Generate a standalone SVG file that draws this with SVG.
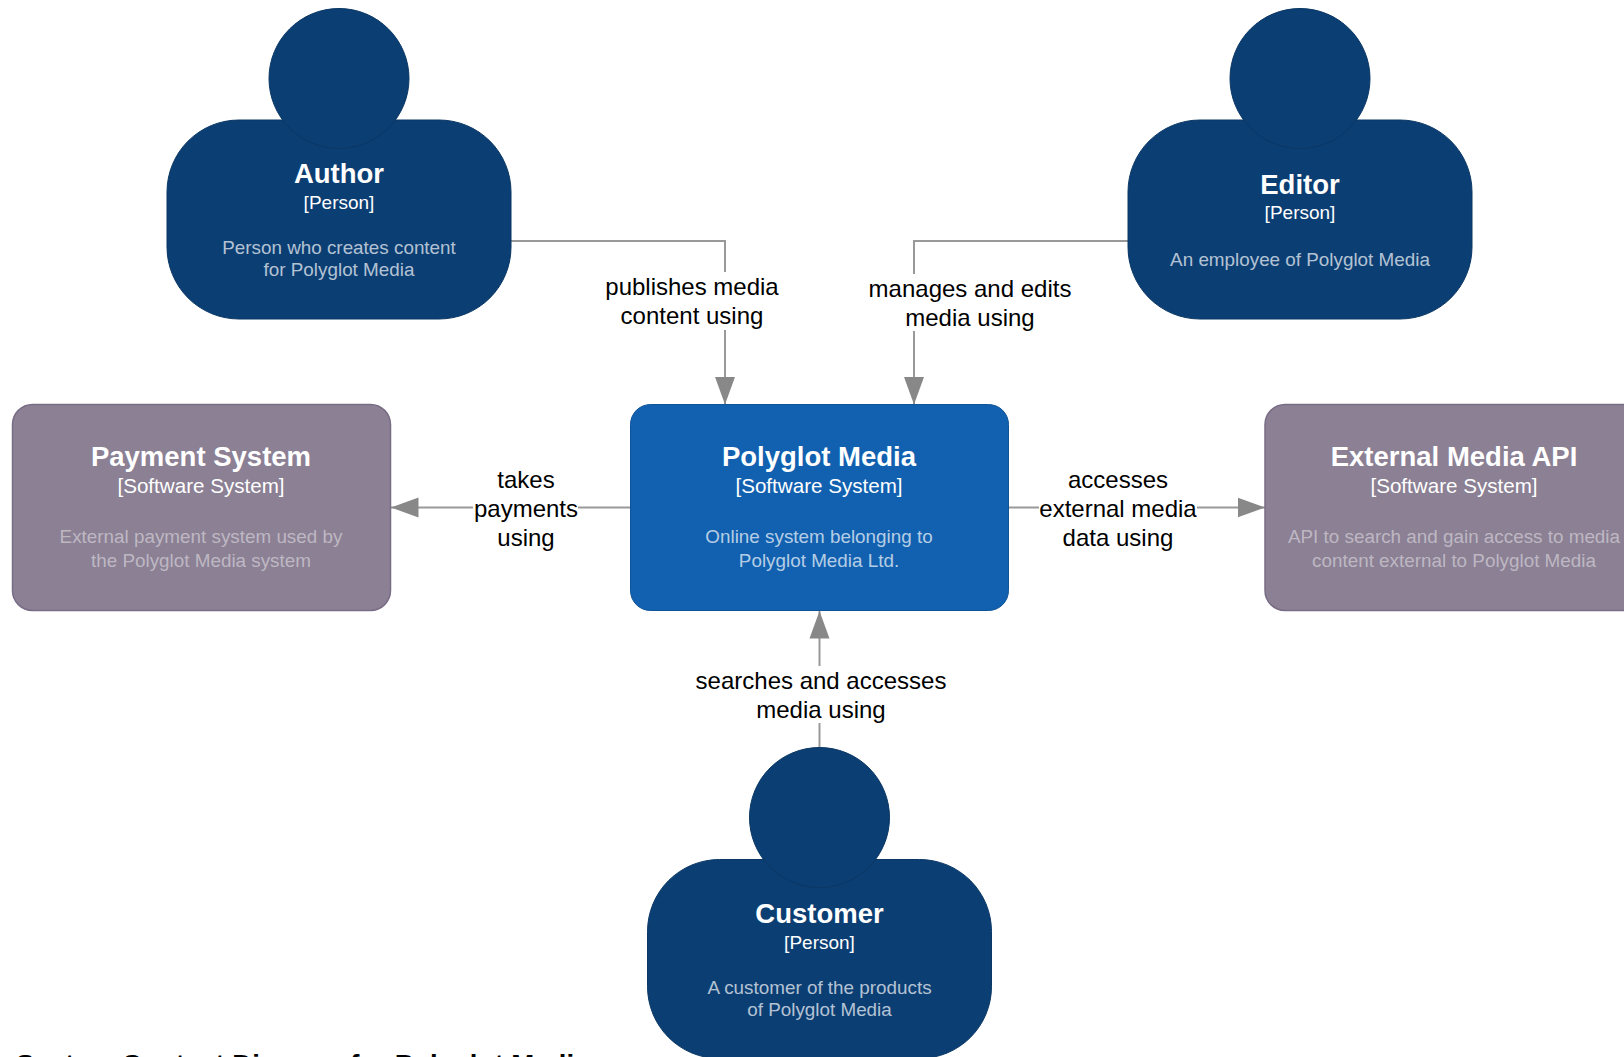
<svg xmlns="http://www.w3.org/2000/svg" width="1624" height="1057" viewBox="0 0 1624 1057">
<style>
text{font-family:"Liberation Sans",Arial,sans-serif;text-anchor:middle}
.t{font-size:27.5px;font-weight:700;fill:#fff}
.s{font-size:19px;fill:#fff}
.ss{font-size:20.6px;fill:#fff}
.d{font-size:18.85px;fill:#fff;fill-opacity:.7}
.e .d,.dd{fill-opacity:.45}
.l{font-size:24px;fill:#000}
.c{fill:none;stroke:#999;stroke-width:2}
.p{fill:#0b3e73;stroke:#0a3764;stroke-width:1}
.x{fill:#8b8094;stroke:#786d85;stroke-width:1.5}
.m{fill:#1161b0;stroke:#0f5497;stroke-width:1}
.ah{fill:#888}
</style>
<defs>
<marker id="a" markerUnits="userSpaceOnUse" markerWidth="28" markerHeight="22" refX="27.500" refY="11" orient="auto"><path class="ah" d="M0 1L27.500 11L0 21Z"/></marker>
</defs>
<rect fill="#fff" width="1624" height="1057"/>
<g id="connectors">
<path class="c" d="M511 241H725V272M725 330V404.500" marker-end="url(#a)"/>
<path class="c" d="M1128 241H914V274M914 331V404.500" marker-end="url(#a)"/>
<path class="c" d="M630 507.500H578M473 507.500H391" marker-end="url(#a)"/>
<path class="c" d="M1009 507.500H1039M1197 507.500H1265" marker-end="url(#a)"/>
<path class="c" d="M819.500 749V723M819.500 666V611" marker-end="url(#a)"/>
</g>
<g id="connector-labels">
<text class="l" x="692" y="295">publishes media</text><text class="l" x="692" y="324">content using</text>
<text class="l" x="970" y="297">manages and edits</text><text class="l" x="970" y="326">media using</text>
<text class="l" x="526" y="488">takes</text><text class="l" x="526" y="517">payments</text><text class="l" x="526" y="546">using</text>
<text class="l" x="1118" y="488">accesses</text><text class="l" x="1118" y="517">external media</text><text class="l" x="1118" y="546">data using</text>
<text class="l" x="821" y="689">searches and accesses</text><text class="l" x="821" y="718">media using</text>
</g>
<g id="author">
<rect class="p" x="167" y="120" width="344" height="199" rx="72"/>
<circle class="p" cx="339" cy="78.500" r="70"/>
<text class="t" x="339" y="183">Author</text><text class="s" x="339" y="209">[Person]</text>
<text class="d" x="339" y="254">Person who creates content</text><text class="d" x="339" y="276">for Polyglot Media</text>
</g>
<g id="editor">
<rect class="p" x="1128" y="120" width="344" height="199" rx="72"/>
<circle class="p" cx="1300" cy="78.500" r="70"/>
<text class="t" x="1300" y="194">Editor</text><text class="s" x="1300" y="219">[Person]</text>
<text class="d" x="1300" y="266">An employee of Polyglot Media</text>
</g>
<g id="customer">
<rect class="p" x="647.500" y="859.500" width="344" height="199" rx="72"/>
<circle class="p" cx="819.500" cy="817.500" r="70"/>
<text class="t" x="819.500" y="923">Customer</text><text class="s" x="819.500" y="949">[Person]</text>
<text class="d" x="819.500" y="993.500">A customer of the products</text><text class="d" x="819.500" y="1015.500">of Polyglot Media</text>
</g>
<g id="polyglot-media">
<rect class="m" x="630.500" y="404.500" width="378" height="206" rx="20"/>
<text class="t" x="819" y="465.500">Polyglot Media</text><text class="ss" x="819" y="493">[Software System]</text>
<text class="d" x="819" y="543">Online system belonging to</text><text class="d" x="819" y="567">Polyglot Media Ltd.</text>
</g>
<g id="payment-system" class="e">
<rect class="x" x="12.500" y="404.500" width="378" height="206" rx="20"/>
<text class="t" x="201" y="465.500">Payment System</text><text class="ss" x="201" y="493">[Software System]</text>
<text class="d" x="201" y="543">External payment system used by</text><text class="d" x="201" y="567">the Polyglot Media system</text>
</g>
<g id="external-media-api" class="e">
<rect class="x" x="1265" y="404.500" width="379" height="206" rx="20"/>
<text class="t" x="1454" y="465.500">External Media API</text><text class="ss" x="1454" y="493">[Software System]</text>
<text class="d" x="1454" y="543">API to search and gain access to media</text><text class="d" x="1454" y="567">content external to Polyglot Media</text>
</g>
<text x="16" y="1074" style="font-size:27.600px;font-weight:700;text-anchor:start;fill:#000">System Context Diagram for Polyglot Media</text>
</svg>
